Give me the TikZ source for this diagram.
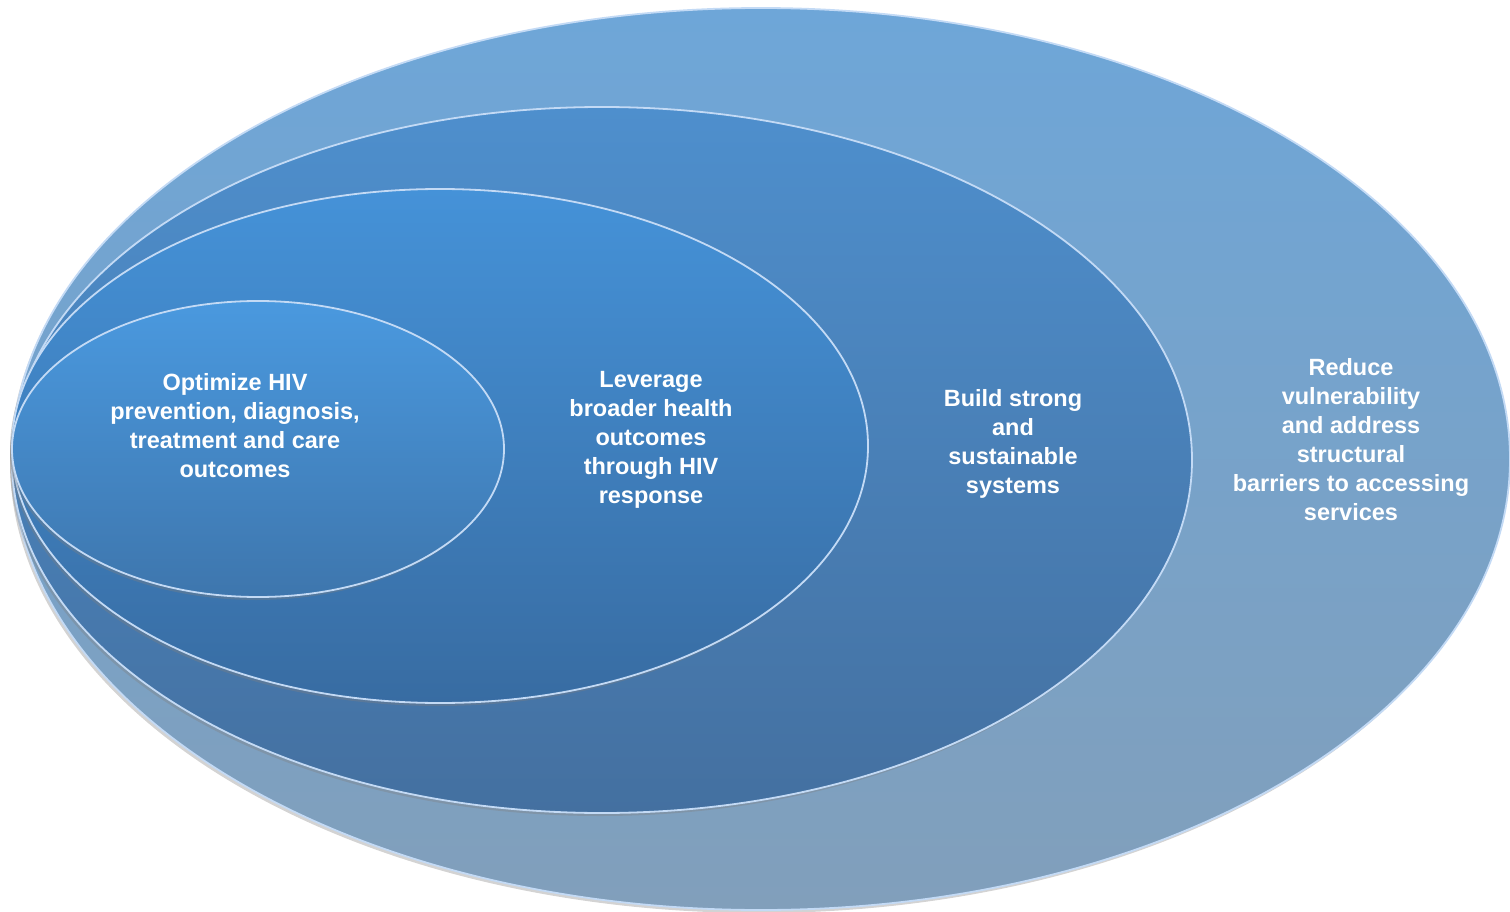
\documentclass[tikz,border=0pt]{standalone}
\usepackage{fontspec}
\setmainfont{Liberation Sans}
\usetikzlibrary{shapes.geometric,shadows}
\definecolor{ringAtop}{HTML}{6EA6D8}
\definecolor{ringAbot}{HTML}{819FBB}
\definecolor{ringBtop}{HTML}{4E8FCD}
\definecolor{ringBbot}{HTML}{4470A0}
\definecolor{ringCtop}{HTML}{4592D8}
\definecolor{ringCbot}{HTML}{386CA2}
\definecolor{ringDtop}{HTML}{4A99DF}
\definecolor{ringDbot}{HTML}{3E76AD}
\definecolor{ringedge}{HTML}{C3DAF5}
\begin{document}
\begin{tikzpicture}[x=1pt,y=-1pt,
    ring/.style={ellipse, inner sep=0pt, draw=ringedge, line width=1.8pt,
      drop shadow={shadow xshift=-2pt, shadow yshift=-3pt, opacity=0.35}},
    label/.style={text=white, align=center, font=\fontsize{23.5}{29}\selectfont\bfseries}]
  \useasboundingbox (0,0) rectangle (1510,912);
  \node[ring, minimum width=1498pt, minimum height=902pt, top color=ringAtop, bottom color=ringAbot] (reduce) at (761,459) {};
  \node[ring, minimum width=1180pt, minimum height=706pt, top color=ringBtop, bottom color=ringBbot] (build) at (602,460) {};
  \node[ring, minimum width=856pt, minimum height=514pt, top color=ringCtop, bottom color=ringCbot] (leverage) at (440,446) {};
  \node[ring, minimum width=492pt, minimum height=296pt, top color=ringDtop, bottom color=ringDbot] (optimize) at (258,449) {};
  % texts
  \node[label] (optimizetext) at (235,426) {Optimize HIV\\prevention, diagnosis,\\treatment and care\\outcomes};
  \node[label] (leveragetext) at (651,440) {Leverage\\broader health\\outcomes\\through HIV\\response};
  \node[label] (buildtext) at (1013,444) {Build strong\\and\\sustainable\\systems};
  \node[label] (reducetext) at (1351,440) {Reduce\\vulnerability\\and address\\structural\\barriers to accessing\\services};
\end{tikzpicture}
\end{document}
